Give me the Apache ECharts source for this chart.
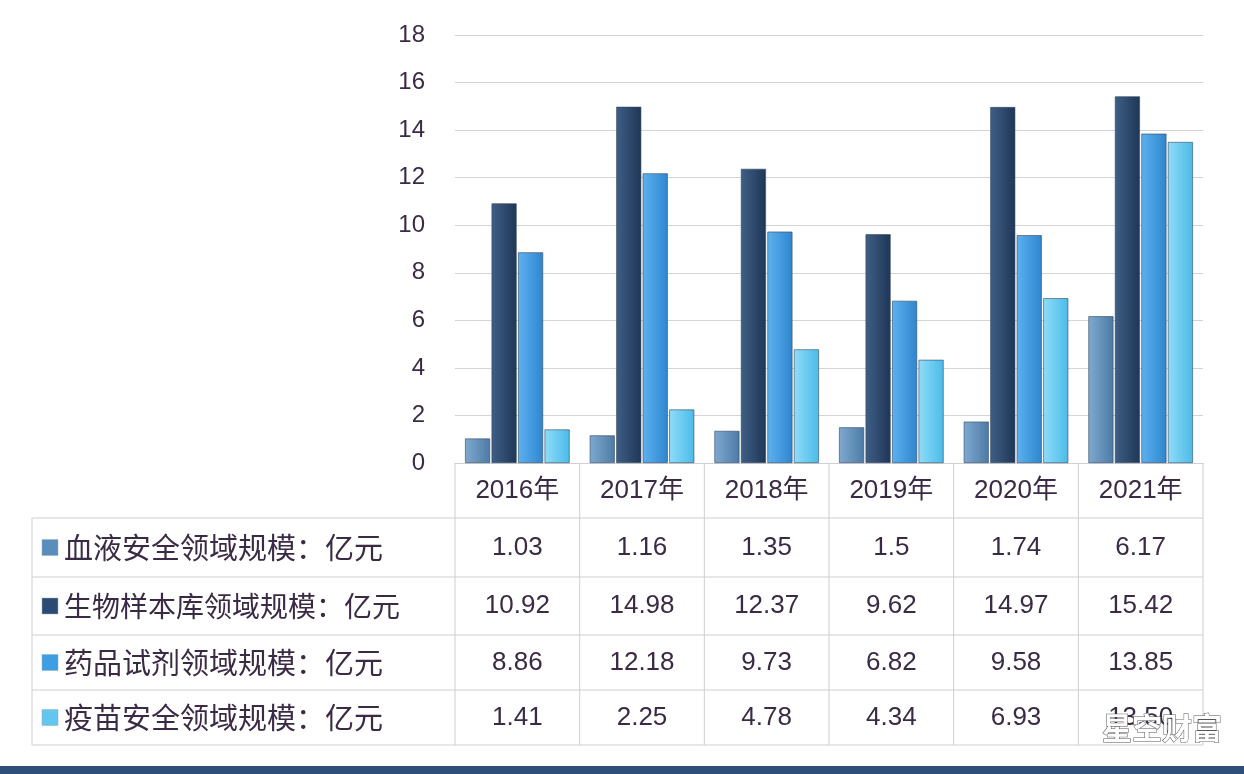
<!DOCTYPE html>
<html><head><meta charset="utf-8">
<script src="https://cdn.jsdelivr.net/npm/echarts@6/dist/echarts.min.js"></script>
<style>html,body{margin:0;padding:0;background:#fff}#c{width:1244px;height:774px}</style>
</head><body><div id="c"></div>
<script>
const categories=['2016年','2017年','2018年','2019年','2020年','2021年'];
const seriesNames=['血液安全领域规模：亿元','生物样本库领域规模：亿元','药品试剂领域规模：亿元','疫苗安全领域规模：亿元'];
const blood=[1.03,1.16,1.35,1.5,1.74,6.17];
const biobank=[10.92,14.98,12.37,9.62,14.97,15.42];
const drug=[8.86,12.18,9.73,6.82,9.58,13.85];
const vaccine=[1.41,2.25,4.78,4.34,6.93,13.50];
const allData=[blood,biobank,drug,vaccine];
const fmt=[blood.map(String),biobank.map(String),drug.map(String),vaccine.map(v=>v.toFixed(2))];
const colors=[['#7fa9cf','#4d7ba6'],['#3f5f86','#1f3656'],['#5cb1ee','#2f86cf'],['#8fdcf8','#4bbbe8']];
const legendColors=['#5a8cbc','#2d4b72','#3d9ee3','#62c6ee'];
const L=455,R=1203,T=35,B=463;
const cw=(R-L)/6;
const rows=[518,577,635,690,745];
const txt='#3b2a45';
const g=[];
categories.forEach((c,i)=>g.push({type:'text',x:L+cw*(i+0.5),y:491,style:{text:c,fill:txt,font:'26px "Liberation Sans","Noto Sans CJK SC"',align:'center',verticalAlign:'middle'}}));
rows.forEach(y=>g.push({type:'line',shape:{x1:32,y1:y,x2:R,y2:y},style:{stroke:'#cfcfd4',lineWidth:1}}));
g.push({type:'line',shape:{x1:32,y1:518,x2:32,y2:745},style:{stroke:'#cfcfd4'}});
for(let k=0;k<=6;k++){const x=L+cw*k;g.push({type:'line',shape:{x1:x,y1:463,x2:x,y2:745},style:{stroke:'#cfcfd4'}});}
seriesNames.forEach((n,s)=>{
  const yc=(rows[s]+rows[s+1])/2;
  g.push({type:'rect',shape:{x:42,y:yc-8,width:16,height:16},style:{fill:legendColors[s],stroke:'#9ab',lineWidth:0.5}});
  g.push({type:'text',x:64,y:yc,style:{text:n,fill:txt,font:(s===1?'28px':'29px')+' "Noto Sans CJK SC"',verticalAlign:'middle'}});
  fmt[s].forEach((v,i)=>g.push({type:'text',x:L+cw*(i+0.5),y:yc,style:{text:v,fill:txt,font:'26px "Liberation Sans"',align:'center',verticalAlign:'middle'}}));
});
g.push({type:'rect',shape:{x:0,y:766,width:1244,height:8},style:{fill:'#2e4f7a'}});
g.push({type:'text',x:1222,y:728,style:{text:'星空财富',fill:'#fff',stroke:'#555',lineWidth:1,font:'bold 30px "Noto Sans CJK SC"',align:'right',verticalAlign:'middle'}});
const chart=echarts.init(document.getElementById('c'));
chart.setOption({
  animation:false,
  grid:{left:L,right:1244-R,top:T,bottom:774-B},
  xAxis:{type:'category',data:categories,axisLabel:{show:false},axisTick:{show:false},axisLine:{lineStyle:{color:'#cfcfd4'}}},
  yAxis:{type:'value',min:0,max:18,interval:2,axisLabel:{color:txt,fontSize:24,fontFamily:'Liberation Sans',margin:30},splitLine:{lineStyle:{color:'#d4d4d8'}},axisLine:{show:false}},
  series:allData.map((d,s)=>({type:'bar',name:seriesNames[s],data:d,barWidth:25,barGap:'6%',
    itemStyle:{borderColor:'#33475f',borderWidth:0.6,color:new echarts.graphic.LinearGradient(0,0,1,0,[{offset:0,color:colors[s][0]},{offset:1,color:colors[s][1]}])}})),
  graphic:g
});
</script></body></html>
